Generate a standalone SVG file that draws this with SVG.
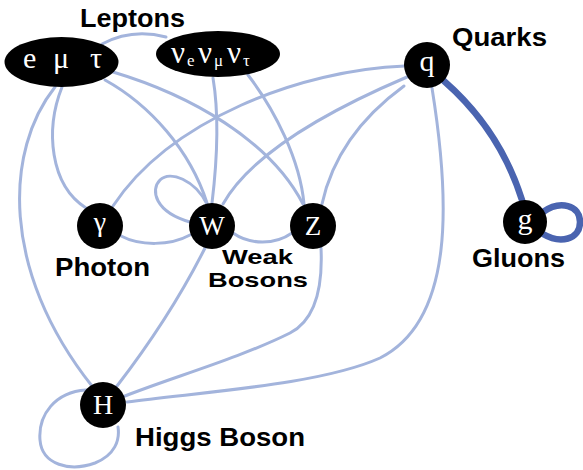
<svg xmlns="http://www.w3.org/2000/svg" width="583" height="470" viewBox="0 0 583 470">
<style>
.e{fill:none;stroke:#a3b4dc;stroke-width:3;stroke-linecap:round}
.h{fill:none;stroke:#4a64b0;stroke-width:6.5;stroke-linecap:round}
.n{fill:#000}
.s{font-family:"Liberation Serif","DejaVu Serif",serif;fill:#fff}
.l{font-family:"Liberation Sans",Arial,sans-serif;font-weight:bold;font-size:25px;fill:#000}
.w{font-size:21px}
</style>
<rect width="583" height="470" fill="#fff"/>
<g id="connectors">
<path class="e" d="M55,87 C5,150 0,270 92,386"/>
<path class="e" d="M62,87 C45,130 50,185 86,208"/>
<path class="e" d="M105,80 C150,105 190,150 207,203"/>
<path class="e" d="M113,72 C190,95 270,140 303,204"/>
<path class="e" d="M102,44 Q132,28 166,37"/>
<path class="e" d="M213,78 C220,120 216,170 212,203"/>
<path class="e" d="M248,75 C275,110 300,160 304,204"/>
<path class="e" d="M405,66 C300,70 170,120 113,206"/>
<path class="e" d="M407,77 Q259,140 223,204"/>
<path class="e" d="M404,86 Q337,135 322,204"/>
<path class="e" d="M432,88 C450,200 455,320 380,358 C320,385 200,392 127,402"/>
<path class="e" d="M321,248 C323,290 315,320 290,333 C240,358 170,378 125,396"/>
<path class="e" d="M206,246 Q171,316 117,386"/>
<path class="e" d="M121,236 C140,246 170,246 190,235"/>
<path class="e" d="M233,233 C250,245 275,245 292,233"/>
<path class="e" d="M207,204 C195,180 170,170 160,180 C150,190 155,212 190,222"/>
<path class="e" d="M86,390 C55,392 38,415 40,440 C42,465 70,472 95,463 C115,455 120,440 118,427"/>
<path class="h" d="M444,81 Q500,130 522,200"/>
<path class="h" d="M543,212 C560,200 580,205 580,222 C580,240 560,244 543,234"/>
</g>
<g id="leptons">
<ellipse class="n" cx="61.5" cy="62" rx="57" ry="25"/>
<text class="s" font-size="30" x="23" y="68">e</text>
<text class="s" font-size="30" x="53" y="68">μ</text>
<text class="s" font-size="30" x="90" y="68">τ</text>
</g>
<g id="neutrinos">
<ellipse class="n" cx="218" cy="54" rx="62" ry="23"/>
<text class="s" font-size="31" x="171" y="63">ν</text>
<text class="s" font-size="17" x="187" y="66">e</text>
<text class="s" font-size="31" x="198" y="63">ν</text>
<text class="s" font-size="17" x="214" y="66">μ</text>
<text class="s" font-size="31" x="227" y="63">ν</text>
<text class="s" font-size="17" x="243" y="66">τ</text>
</g>
<g id="quark">
<circle class="n" cx="427" cy="65" r="23"/>
<text class="s" font-size="30" x="427" y="71" text-anchor="middle">q</text>
</g>
<g id="gluon">
<circle class="n" cx="525" cy="222" r="22"/>
<text class="s" font-size="30" x="525" y="229" text-anchor="middle">g</text>
</g>
<g id="photon">
<circle class="n" cx="100" cy="226" r="23"/>
<text class="s" font-size="28" x="100" y="231" text-anchor="middle">γ</text>
</g>
<g id="w">
<circle class="n" cx="212" cy="226" r="23"/>
<text class="s" font-size="27" x="212" y="235" text-anchor="middle">W</text>
</g>
<g id="z">
<circle class="n" cx="313" cy="226" r="23"/>
<text class="s" font-size="27" x="313" y="235" text-anchor="middle">Z</text>
</g>
<g id="higgs">
<circle class="n" cx="103" cy="405" r="23"/>
<text class="s" font-size="28" x="103" y="414" text-anchor="middle">H</text>
</g>
<g id="labels">
<text class="l" x="80" y="27" textLength="105" lengthAdjust="spacingAndGlyphs">Leptons</text>
<text class="l" x="452" y="46" textLength="95" lengthAdjust="spacingAndGlyphs">Quarks</text>
<text class="l" x="472" y="267" textLength="93" lengthAdjust="spacingAndGlyphs">Gluons</text>
<text class="l" x="55" y="276" textLength="95" lengthAdjust="spacingAndGlyphs">Photon</text>
<text class="l w" x="222" y="264" textLength="71" lengthAdjust="spacingAndGlyphs">Weak</text>
<text class="l w" x="208" y="287" textLength="100" lengthAdjust="spacingAndGlyphs">Bosons</text>
<text class="l" x="135" y="446" textLength="170" lengthAdjust="spacingAndGlyphs">Higgs Boson</text>
</g>
</svg>
